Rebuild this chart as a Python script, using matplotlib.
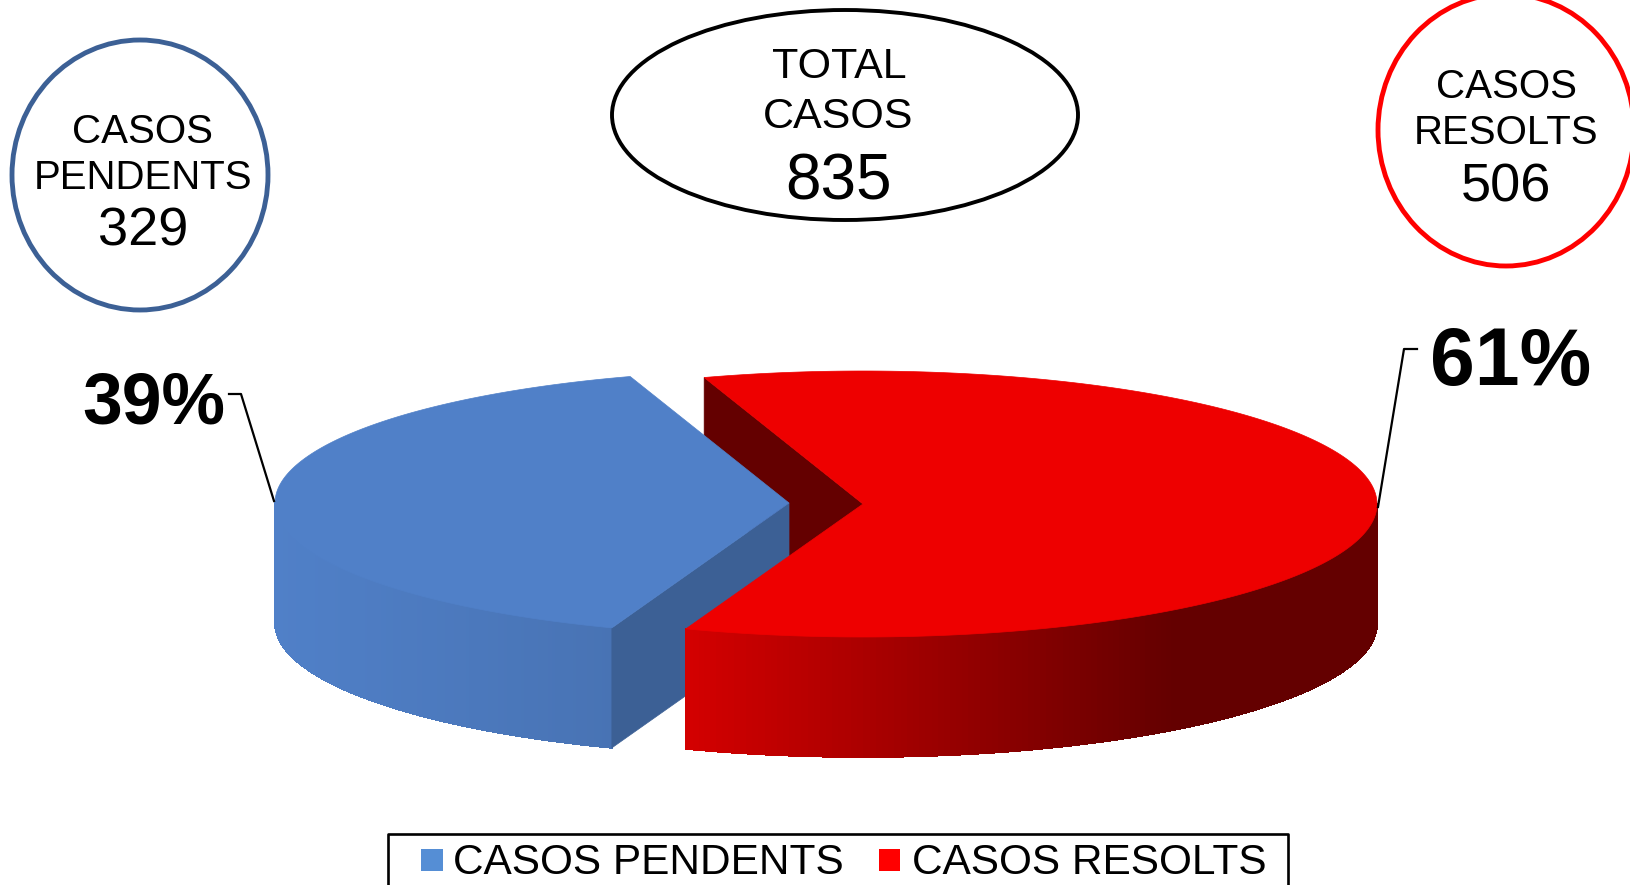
# Pie 3D casos pendents / resolts
import numpy as np
import matplotlib
matplotlib.use('Agg')
import matplotlib.pyplot as plt
from matplotlib.patches import Ellipse, Polygon, Rectangle

plt.rcParams['font.family'] = ['Liberation Sans', 'DejaVu Sans']

# Data
categories = ['CASOS PENDENTS', 'CASOS RESOLTS']
values = [329, 506]
percents = ['39%', '61%']
total = 835

# pie geometry, in picture pixels
RX, RY, DEPTH = 514, 133, 120
RED_C = (863, 504)
BLUE_C = (789, 503)
START = 342  # clock angle where the red slice starts

fig = plt.figure(figsize=(16.3, 8.85), dpi=100)
ax = fig.add_axes([0, 0, 1, 1])
ax.set_xlim(0, 1630)
ax.set_ylim(885, 0)
ax.axis('off')


def rim(center, clock):
    a = np.radians(clock)
    return center[0] + RX * np.sin(a), center[1] - RY * np.cos(a)


def top_face(center, a0, a1, color, z):
    t = np.linspace(a0, a1, 300)
    x, y = rim(center, t)
    pts = [center] + list(zip(x, y))
    ax.add_patch(Polygon(pts, closed=True, fc=color, ec=color, lw=0.5, zorder=z))


def wall(center, a0, a1, col_fn, z):
    t = np.linspace(a0, a1, 160)
    x, y = rim(center, t)
    for i in range(len(t) - 1):
        pts = [(x[i], y[i]), (x[i + 1], y[i + 1]), (x[i + 1], y[i + 1] + DEPTH), (x[i], y[i] + DEPTH)]
        c = col_fn((x[i] + x[i + 1]) / 2)
        ax.add_patch(Polygon(pts, closed=True, fc=c, ec=c, lw=0.6, antialiased=False, zorder=z))


def cut_face(center, clock, color, z):
    x, y = rim(center, clock)
    pts = [center, (x, y), (x, y + DEPTH), (center[0], center[1] + DEPTH)]
    ax.add_patch(Polygon(pts, closed=True, fc=color, ec=color, lw=0.5, zorder=z))


def red_col(x):
    k = np.clip((x - 685) / (1170 - 685), 0, 1)
    return ((212 - 112 * k) / 255, 0, 0)


def blue_col(x):
    k = np.clip((x - 274) / (613 - 274), 0, 1)
    return ((80 - 8 * k) / 255, (128 - 13 * k) / 255, (200 - 20 * k) / 255)


# angles come from the values
red_span = 360 * values[1] / sum(values)
red_end = START + red_span - 360  # clock angle at lower left
blue_start = red_end
blue_end = START

# back cut of the red slice, behind everything
cut_face(RED_C, START, '#640000', 1)

# blue slice
wall(BLUE_C, blue_start, 270, blue_col, 2)
cut_face(BLUE_C, blue_start, '#3C6095', 2)
top_face(BLUE_C, blue_start, blue_end, '#5080C8', 3)

# red slice
wall(RED_C, 90, red_end, red_col, 4)
top_face(RED_C, START - 360, red_end, '#EE0000', 5)

# leader lines
ax.plot([274, 241, 229], [501, 394, 394], color='black', lw=1.6, zorder=6)
ax.plot([1378, 1404, 1417], [507, 349, 349], color='black', lw=1.6, zorder=6)

# percentages
ax.text(154, 404, percents[0], fontsize=51.5, fontweight='bold', ha='center', va='center')
ax.text(1511, 364, percents[1], fontsize=58, fontweight='bold', ha='center', va='center')

# bubbles
ax.add_patch(Ellipse((140, 175), 256, 270, fc='white', ec='#3C6095', lw=3.5))
ax.add_patch(Ellipse((845, 115), 466, 210, fc='white', ec='black', lw=2.8))
ax.add_patch(Ellipse((1506, 130), 256, 272, fc='white', ec='#FF0000', lw=3.5, clip_on=True))

ax.text(143, 132, 'CASOS', fontsize=29, ha='center', va='center')
ax.text(143, 178, 'PENDENTS', fontsize=29, ha='center', va='center')
ax.text(143, 232, str(values[0]), fontsize=39, ha='center', va='center')

ax.text(839, 67, 'TOTAL', fontsize=31, ha='center', va='center')
ax.text(838, 117, 'CASOS', fontsize=31, ha='center', va='center')
ax.text(838, 183, str(total), fontsize=46, ha='center', va='center')

ax.text(1506, 87, 'CASOS', fontsize=29, ha='center', va='center')
ax.text(1506, 133, 'RESOLTS', fontsize=29, ha='center', va='center')
ax.text(1506, 188, str(values[1]), fontsize=39, ha='center', va='center')

# legend
ax.plot([388, 388, 1288, 1288], [885, 834, 834, 885], color='black', lw=1.9, clip_on=True)
ax.add_patch(Rectangle((421, 849), 22, 22, fc='#558ED5', ec='none'))
ax.add_patch(Rectangle((879, 849), 21, 22, fc='#FF0000', ec='none'))
ax.text(453, 863, categories[0], fontsize=30.5, ha='left', va='center')
ax.text(912, 863, categories[1], fontsize=30.5, ha='left', va='center')

fig.savefig('out.png', dpi=100)
